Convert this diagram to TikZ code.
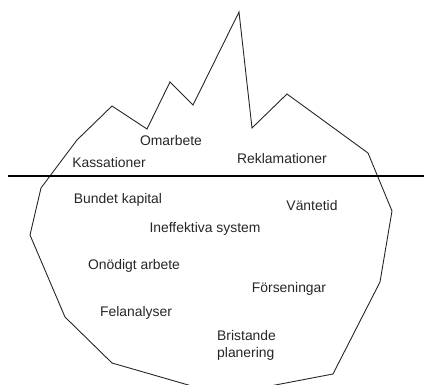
\documentclass[tikz,border=0pt]{standalone}
\usepackage{fontspec}
\setmainfont{Liberation Sans}
\begin{document}
\begin{tikzpicture}[x=1pt,y=-1pt,
  lbl/.style={inner sep=0pt,font=\fontsize{13.9}{17}\selectfont,text=black!85},
  berg/.style={draw=black!85,line width=0.9pt,line join=miter},
  water/.style={draw=black,line width=1.7pt}]
\useasboundingbox (0,0) rectangle (424,385);
\begin{scope}
\clip (0,0) rectangle (424,385);
% iceberg outline
\draw[berg] (239,12) -- (252,128) -- (287,94) -- (368,153) -- (392,211)
  -- (380,282) -- (333,374) -- (223,395) -- (112,363) -- (65,317)
  -- (30,235) -- (41,188) -- (77,140) -- (112,106) -- (147,129)
  -- (170,82) -- (193,105) -- cycle;
% waterline
\coordinate (wl) at (8,176);
\coordinate (wr) at (424,176);
\draw[water] (wl) -- (wr);
\end{scope}
% above the surface
\node[lbl] (omarbete) at (171,141) {Omarbete};
\node[lbl] (kassation) at (109,163) {Kassationer};
\node[lbl] (reklam) at (282,159) {Reklamationer};
% below the surface
\node[lbl] (kapital) at (118,200) {Bundet kapital};
\node[lbl] (vantetid) at (312,206) {Väntetid};
\node[lbl] (system) at (205,229) {Ineffektiva system};
\node[lbl] (onodigt) at (134,266) {Onödigt arbete};
\node[lbl] (forsen) at (289,289) {Förseningar};
\node[lbl] (felanalys) at (136,313) {Felanalyser};
\node[lbl,align=left,anchor=west] (planering) at (217,345) {Bristande\\planering};
\end{tikzpicture}
\end{document}
